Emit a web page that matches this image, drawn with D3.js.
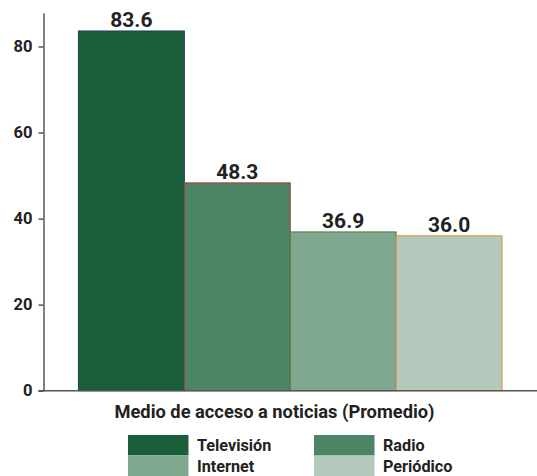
<!DOCTYPE html>
<html lang="es">
<head>
  <meta charset="UTF-8">
  <title>Medio de acceso a noticias</title>
  <script src="https://d3js.org/d3.v7.min.js"></script>
  <style>
    body { margin: 0; background: #fff; }
    svg text { font-family: Roboto, "Liberation Sans", sans-serif; fill: #222; }
    .axis text { font-size: 16.5px; font-weight: bold; }
    .axis path, .axis line { stroke: #555; stroke-width: 1.5px; }
    .value { font-size: 21px; font-weight: bold; }
    .xtitle { font-size: 18.3px; font-weight: bold; }
    .legend text { font-size: 16.2px; font-weight: bold; }
  </style>
</head>
<body>
<div id="chart"></div>
<script>
  // ---------------- Data ----------------
  const categories = ["Televisión", "Radio", "Internet", "Periódico"];
  const values = [83.6, 48.3, 36.9, 36.0];
  const fills = ["#1b5e3a", "#4e8466", "#80a890", "#b2c9bb"];
  const strokes = ["#1f3f5c", "#a8383c", "#4f7a3a", "#e0953a"];
  const yTicks = [0, 20, 40, 60, 80];

  const W = 537, H = 476;
  const margin = { top: 13, right: 0, bottom: 85, left: 43.5 };
  const innerW = W - margin.left - margin.right;
  const innerH = 390.7 - margin.top;

  const svg = d3.select("#chart").append("svg")
    .attr("width", W).attr("height", H);

  const g = svg.append("g")
    .attr("transform", `translate(${margin.left},${margin.top})`);

  // ---------------- Scales ----------------
  const x = d3.scaleBand().domain(categories).range([0, innerW])
    .paddingInner(0).paddingOuter(0.33);
  const y = d3.scaleLinear().domain([0, d3.max(values) * 1.05]).range([innerH, 0]);

  // ---------------- Bars ----------------
  g.selectAll(".bar")
    .data(categories)
    .enter().append("rect")
    .attr("class", "bar")
    .attr("x", d => x(d))
    .attr("y", (d, i) => y(values[i]))
    .attr("width", x.bandwidth())
    .attr("height", (d, i) => innerH - y(values[i]))
    .attr("fill", (d, i) => fills[i])
    .attr("stroke", (d, i) => strokes[i])
    .attr("stroke-width", 1);

  g.selectAll(".value")
    .data(categories)
    .enter().append("text")
    .attr("class", "value")
    .attr("x", d => x(d) + x.bandwidth() / 2)
    .attr("y", (d, i) => y(values[i]) - 4)
    .attr("text-anchor", "middle")
    .text((d, i) => values[i].toFixed(1));

  // ---------------- Axes ----------------
  g.append("g").attr("class", "axis")
    .call(d3.axisLeft(y).tickValues(yTicks).tickSize(5).tickPadding(6).tickSizeOuter(0));

  g.append("line")
    .attr("class", "axis-x")
    .attr("x1", -5).attr("x2", innerW)
    .attr("y1", innerH).attr("y2", innerH)
    .attr("stroke", "#555").attr("stroke-width", 1.5);

  g.append("text")
    .attr("class", "xtitle")
    .attr("x", 274.5 - margin.left)
    .attr("y", 418 - margin.top)
    .attr("text-anchor", "middle")
    .text("Medio de acceso a noticias (Promedio)");

  // ---------------- Legend ----------------
  const legend = svg.append("g").attr("class", "legend")
    .attr("transform", "translate(128,435)");

  const item = legend.selectAll(".item")
    .data(categories)
    .enter().append("g")
    .attr("class", "item")
    .attr("transform", (d, i) => `translate(${(i % 2) * 186},${Math.floor(i / 2) * 21})`);

  item.append("rect")
    .attr("width", 60.5).attr("height", 20.5)
    .attr("fill", (d, i) => fills[i]);

  item.append("text")
    .attr("x", 69).attr("y", 15.5)
    .text(d => d);
</script>
</body>
</html>
